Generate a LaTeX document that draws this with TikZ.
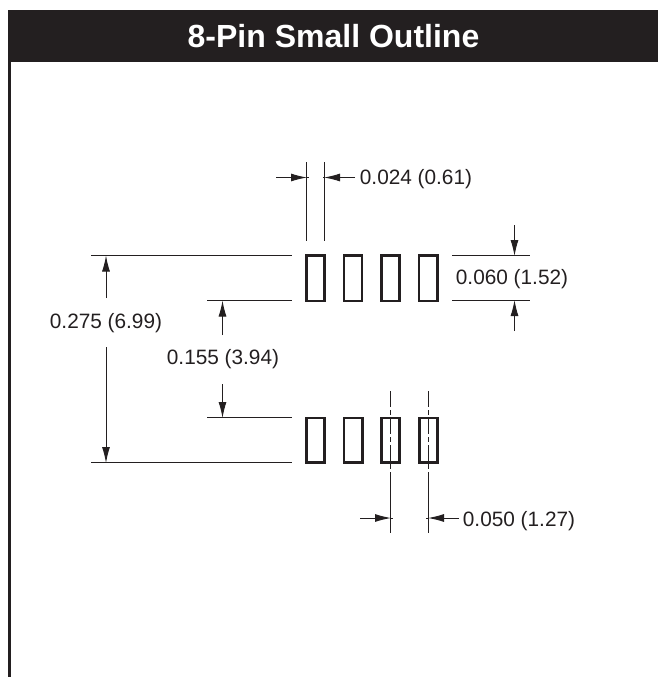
\documentclass[tikz,border=0pt]{standalone}
\usepackage{fontspec}
\setmainfont{Liberation Sans}
\usetikzlibrary{arrows.meta}
\definecolor{ink}{HTML}{231F20}
\tikzset{
  dimline/.style={draw=ink,line width=1pt},
  dimarrow/.style={draw=ink,line width=1pt,-{Latex[length=16pt,width=8pt]}},
  pin/.style={draw=ink,line width=2.6pt,fill=none},
  center line/.style={draw=ink,line width=1pt,dash pattern=on 16pt off 3pt on 5pt off 3pt},
  dimlabel/.style={text=ink,font=\fontsize{20.8}{24}\selectfont,inner sep=0pt,anchor=center},
}
\begin{document}
\begin{tikzpicture}[x=1pt,y=-1pt]
\useasboundingbox (0,0) rectangle (658,677);
\fill[ink] (8,10) rectangle (658,62);
\fill[ink] (8,62) rectangle (11,677);
\node[inner sep=0pt,text=white,font=\fontsize{32}{36}\selectfont\bfseries] (title) at (333.5,36) {8-Pin Small Outline};

% pins
\foreach \a/\b in {306.3/324.7,344/362,381.3/399.7,419/437.4}{
  \draw[pin] (\a,255.6) rectangle (\b,301);
}
\foreach \a/\b in {306.3/324.7,343.8/362.2,381.6/399.7,419.3/437.7}{
  \draw[pin] (\a,418) rectangle (\b,462.7);
}

% labels
\node[dimlabel] (l024) at (416,179.5) {0.024 (0.61)};
\node[dimlabel] (l060) at (512,279) {0.060 (1.52)};
\node[dimlabel] (l275) at (106,323.5) {0.275 (6.99)};
\node[dimlabel] (l155) at (223,359.5) {0.155 (3.94)};
\node[dimlabel] (l050) at (519,521.5) {0.050 (1.27)};

% named ends
\coordinate (w1t) at (306.5,162); \coordinate (w1b) at (306.5,241);
\coordinate (w2t) at (324.5,162); \coordinate (w2b) at (324.5,241);
\coordinate (wa1) at (276,177.5); \coordinate (wa1e) at (307,177.5);
\coordinate (wa2) at (355,177.5); \coordinate (wa2e) at (324,177.5);
\coordinate (wx1) at (308.5,177.5); \coordinate (wx2) at (322.5,177.5);

\coordinate (ta) at (91,255.5);  \coordinate (tb) at (292,255.5);
\coordinate (ua) at (207,300.5); \coordinate (ub) at (292,300.5);
\coordinate (va) at (207,417.5); \coordinate (vb) at (292,417.5);
\coordinate (ba) at (91,462.5);  \coordinate (bb) at (292,462.5);
\coordinate (ra) at (452,255.5); \coordinate (rb) at (530,255.5);
\coordinate (sa) at (452,300.5); \coordinate (sb) at (530,300.5);

\draw[dimline] (w1t) -- (w1b);
\draw[dimline] (w2t) -- (w2b);
\draw[dimarrow] (wa1) -- (wa1e);
\draw[dimline] (wa1e) -- (wx1);
\draw[dimarrow] (wa2) -- (wa2e);
\draw[dimline] (wa2e) -- (wx2);

\draw[dimline] (ta) -- (tb);
\draw[dimline] (ua) -- (ub);
\draw[dimline] (va) -- (vb);
\draw[dimline] (ba) -- (bb);
\draw[dimline] (ra) -- (rb);
\draw[dimline] (sa) -- (sb);

\coordinate (o1) at (106,298); \coordinate (o1e) at (106,255.5);
\coordinate (o2) at (106,347); \coordinate (o2e) at (106,463);
\coordinate (i1) at (222.5,335); \coordinate (i1e) at (222.5,300.5);
\coordinate (i2) at (222.5,384); \coordinate (i2e) at (222.5,418);
\coordinate (h1) at (514.5,225); \coordinate (h1e) at (514.5,256);
\coordinate (h2) at (514.5,331); \coordinate (h2e) at (514.5,300);
\draw[dimarrow] (o1) -- (o1e);
\draw[dimarrow] (o2) -- (o2e);
\draw[dimarrow] (i1) -- (i1e);
\draw[dimarrow] (i2) -- (i2e);
\draw[dimarrow] (h1) -- (h1e);
\draw[dimarrow] (h2) -- (h2e);

% centre lines
\coordinate (c1t) at (390.7,391); \coordinate (c1m) at (390.7,475); \coordinate (c1b) at (390.7,533);
\coordinate (c2t) at (428.3,391); \coordinate (c2m) at (428.3,475); \coordinate (c2b) at (428.3,533);
\draw[center line] (c1t) -- (c1m);
\draw[center line] (c2t) -- (c2m);
\draw[dimline] (c1m) -- (c1b);
\draw[dimline] (c2m) -- (c2b);
\coordinate (p1) at (360,518); \coordinate (p1e) at (391,518); \coordinate (p1x) at (393,518);
\coordinate (p2) at (459,518); \coordinate (p2e) at (428,518); \coordinate (p2x) at (426,518);
\draw[dimarrow] (p1) -- (p1e);
\draw[dimline] (p1e) -- (p1x);
\draw[dimarrow] (p2) -- (p2e);
\draw[dimline] (p2e) -- (p2x);
\end{tikzpicture}
\end{document}
